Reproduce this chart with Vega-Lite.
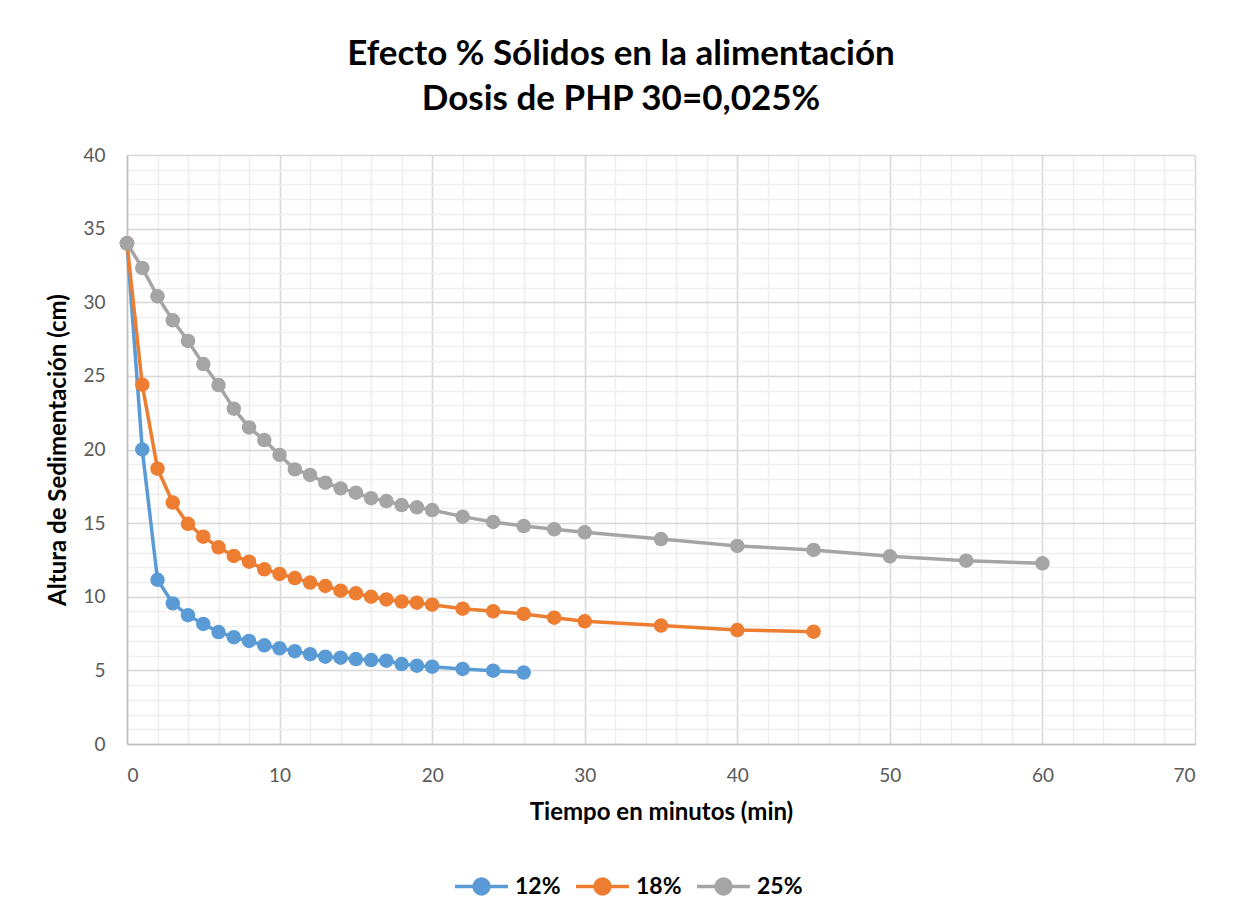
{
  "$schema": "https://vega.github.io/schema/vega-lite/v6.json",
  "width": 1068,
  "height": 589,
  "autosize": {"type": "none"},
  "padding": {"left": 127, "top": 155, "right": 41, "bottom": 174},
  "background": "white",
  "config": {
    "font": "Lato",
    "view": {"stroke": null}
  },
  "title": {
    "text": ["Efecto % Sólidos en la alimentación", "Dosis de PHP 30=0,025%"],
    "fontSize": 35,
    "fontWeight": "bold",
    "color": "#000000",
    "font": "Lato",
    "lineHeight": 45,
    "anchor": "middle",
    "frame": "group",
    "dx": -40,
    "offset": 29
  },
  "data": {
    "values": [
      {"serie": "12%", "t": 0, "h": 34.0},
      {"serie": "12%", "t": 1, "h": 20.0},
      {"serie": "12%", "t": 2, "h": 11.15},
      {"serie": "12%", "t": 3, "h": 9.55},
      {"serie": "12%", "t": 4, "h": 8.75},
      {"serie": "12%", "t": 5, "h": 8.15},
      {"serie": "12%", "t": 6, "h": 7.6},
      {"serie": "12%", "t": 7, "h": 7.25},
      {"serie": "12%", "t": 8, "h": 7.0},
      {"serie": "12%", "t": 9, "h": 6.7},
      {"serie": "12%", "t": 10, "h": 6.5},
      {"serie": "12%", "t": 11, "h": 6.3},
      {"serie": "12%", "t": 12, "h": 6.1},
      {"serie": "12%", "t": 13, "h": 5.93},
      {"serie": "12%", "t": 14, "h": 5.86},
      {"serie": "12%", "t": 15, "h": 5.77},
      {"serie": "12%", "t": 16, "h": 5.7},
      {"serie": "12%", "t": 17, "h": 5.66},
      {"serie": "12%", "t": 18, "h": 5.43},
      {"serie": "12%", "t": 19, "h": 5.32},
      {"serie": "12%", "t": 20, "h": 5.25},
      {"serie": "12%", "t": 22, "h": 5.1},
      {"serie": "12%", "t": 24, "h": 4.98},
      {"serie": "12%", "t": 26, "h": 4.85},
      {"serie": "18%", "t": 0, "h": 34.0},
      {"serie": "18%", "t": 1, "h": 24.4},
      {"serie": "18%", "t": 2, "h": 18.7},
      {"serie": "18%", "t": 3, "h": 16.4},
      {"serie": "18%", "t": 4, "h": 14.95},
      {"serie": "18%", "t": 5, "h": 14.08},
      {"serie": "18%", "t": 6, "h": 13.36},
      {"serie": "18%", "t": 7, "h": 12.77},
      {"serie": "18%", "t": 8, "h": 12.38},
      {"serie": "18%", "t": 9, "h": 11.86},
      {"serie": "18%", "t": 10, "h": 11.55},
      {"serie": "18%", "t": 11, "h": 11.27},
      {"serie": "18%", "t": 12, "h": 10.96},
      {"serie": "18%", "t": 13, "h": 10.73},
      {"serie": "18%", "t": 14, "h": 10.41},
      {"serie": "18%", "t": 15, "h": 10.23},
      {"serie": "18%", "t": 16, "h": 10.0},
      {"serie": "18%", "t": 17, "h": 9.82},
      {"serie": "18%", "t": 18, "h": 9.67},
      {"serie": "18%", "t": 19, "h": 9.6},
      {"serie": "18%", "t": 20, "h": 9.46},
      {"serie": "18%", "t": 22, "h": 9.19},
      {"serie": "18%", "t": 24, "h": 9.01},
      {"serie": "18%", "t": 26, "h": 8.83},
      {"serie": "18%", "t": 28, "h": 8.58},
      {"serie": "18%", "t": 30, "h": 8.33},
      {"serie": "18%", "t": 35, "h": 8.04},
      {"serie": "18%", "t": 40, "h": 7.74},
      {"serie": "18%", "t": 45, "h": 7.63},
      {"serie": "25%", "t": 0, "h": 34.0},
      {"serie": "25%", "t": 1, "h": 32.33},
      {"serie": "25%", "t": 2, "h": 30.4},
      {"serie": "25%", "t": 3, "h": 28.77},
      {"serie": "25%", "t": 4, "h": 27.37},
      {"serie": "25%", "t": 5, "h": 25.8},
      {"serie": "25%", "t": 6, "h": 24.38},
      {"serie": "25%", "t": 7, "h": 22.77},
      {"serie": "25%", "t": 8, "h": 21.5},
      {"serie": "25%", "t": 9, "h": 20.64},
      {"serie": "25%", "t": 10, "h": 19.63},
      {"serie": "25%", "t": 11, "h": 18.65},
      {"serie": "25%", "t": 12, "h": 18.27},
      {"serie": "25%", "t": 13, "h": 17.75},
      {"serie": "25%", "t": 14, "h": 17.36},
      {"serie": "25%", "t": 15, "h": 17.07},
      {"serie": "25%", "t": 16, "h": 16.69},
      {"serie": "25%", "t": 17, "h": 16.5},
      {"serie": "25%", "t": 18, "h": 16.23},
      {"serie": "25%", "t": 19, "h": 16.07},
      {"serie": "25%", "t": 20, "h": 15.89},
      {"serie": "25%", "t": 22, "h": 15.44},
      {"serie": "25%", "t": 24, "h": 15.08},
      {"serie": "25%", "t": 26, "h": 14.8},
      {"serie": "25%", "t": 28, "h": 14.58},
      {"serie": "25%", "t": 30, "h": 14.38},
      {"serie": "25%", "t": 35, "h": 13.92},
      {"serie": "25%", "t": 40, "h": 13.45},
      {"serie": "25%", "t": 45, "h": 13.18},
      {"serie": "25%", "t": 50, "h": 12.75},
      {"serie": "25%", "t": 55, "h": 12.45},
      {"serie": "25%", "t": 60, "h": 12.27}
    ]
  },
  "layer": [
    {
      "mark": {"type": "point", "opacity": 0},
      "encoding": {
        "x": {
          "field": "t", "type": "quantitative",
          "scale": {"domain": [0, 70], "nice": false, "zero": true},
          "axis": {
            "orient": "bottom", "title": null, "labels": false, "ticks": false, "domain": false,
            "grid": true, "gridColor": "#EEEEEE", "gridWidth": 1.5,
            "values": [0,2,4,6,8,10,12,14,16,18,20,22,24,26,28,30,32,34,36,38,40,42,44,46,48,50,52,54,56,58,60,62,64,66,68,70]
          }
        },
        "y": {
          "field": "h", "type": "quantitative",
          "scale": {"domain": [0, 40], "nice": false},
          "axis": {
            "orient": "left", "title": null, "labels": false, "ticks": false, "domain": false,
            "grid": true, "gridColor": "#EEEEEE", "gridWidth": 1.5,
            "values": [0,1,2,3,4,5,6,7,8,9,10,11,12,13,14,15,16,17,18,19,20,21,22,23,24,25,26,27,28,29,30,31,32,33,34,35,36,37,38,39,40]
          }
        }
      }
    },
    {
      "mark": {
        "type": "line",
        "strokeWidth": 3.5,
        "point": {"filled": true, "size": 210, "opacity": 1}
      },
      "encoding": {
        "x": {
          "field": "t", "type": "quantitative",
          "axis": {
            "orient": "bottom",
            "values": [0,10,20,30,40,50,60,70],
            "grid": true, "gridColor": "#D9D9D9", "gridWidth": 1.5,
            "domain": true, "domainColor": "#BFBFBF", "domainWidth": 1.5,
            "ticks": false,
            "labelFontSize": 19, "labelColor": "#595959", "labelPadding": 22,
            "title": "Tiempo en minutos (min)",
            "titleFontSize": 24, "titleFontWeight": "bold", "titleColor": "#000000", "titlePadding": 15
          }
        },
        "y": {
          "field": "h", "type": "quantitative",
          "axis": {
            "orient": "left",
            "values": [0,5,10,15,20,25,30,35,40],
            "grid": true, "gridColor": "#D9D9D9", "gridWidth": 1.5,
            "domain": true, "domainColor": "#BFBFBF", "domainWidth": 1.5,
            "ticks": false,
            "labelFontSize": 19, "labelColor": "#595959", "labelPadding": 22,
            "title": "Altura de Sedimentación  (cm)",
            "titleFontSize": 24, "titleFontWeight": "bold", "titleColor": "#000000", "titlePadding": 12
          }
        },
        "color": {
          "field": "serie", "type": "nominal",
          "scale": {"domain": ["12%", "18%", "25%"], "range": ["#5B9BD5", "#ED7D31", "#A5A5A5"]},
          "legend": {
            "title": null,
            "orient": "none",
            "direction": "horizontal",
            "legendX": 326,
            "legendY": 703,
            "padding": 0,
            "symbolType": "M-1,0L1,0M-0.28,0A0.28,0.28 0 1,1 0.28,0A0.28,0.28 0 1,1 -0.28,0Z",
            "symbolSize": 2809,
            "symbolStrokeWidth": 3.5,
            "labelFontSize": 23,
            "labelFontWeight": "bold",
            "labelColor": "#000000",
            "labelOffset": 5,
            "columnPadding": 8,
            "encode": {
              "symbols": {
                "update": {
                  "fill": {"scale": "color", "field": "value"},
                  "stroke": {"scale": "color", "field": "value"},
                  "opacity": {"value": 1}
                }
              }
            }
          }
        }
      }
    }
  ],
  "resolve": {"axis": {"x": "independent", "y": "independent"}}
}
